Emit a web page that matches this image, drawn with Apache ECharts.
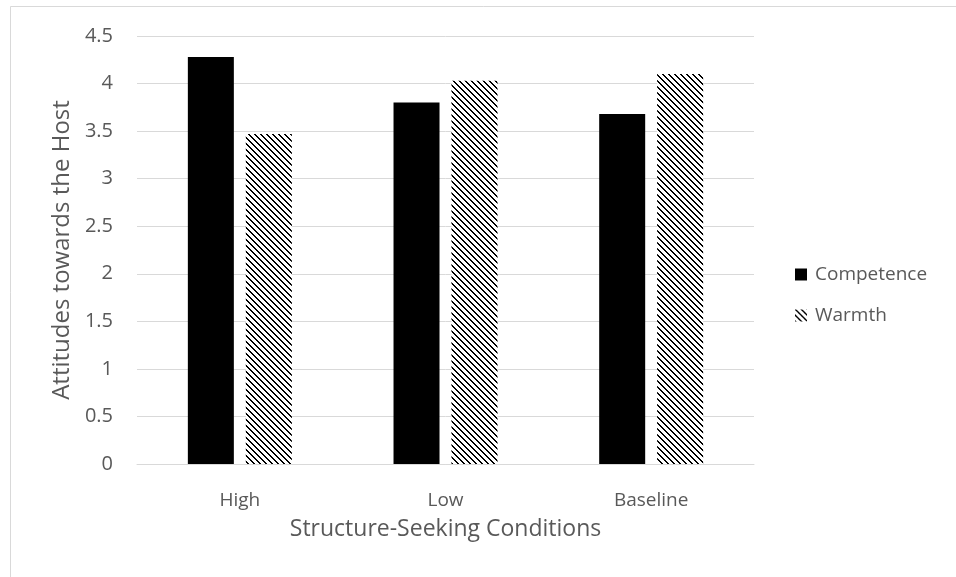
<!DOCTYPE html>
<html>
<head>
<meta charset="utf-8">
<script src="https://cdn.jsdelivr.net/npm/echarts@6/dist/echarts.min.js"></script>
<style>
  html, body { margin: 0; padding: 0; background: #fff; }
  #chart { width: 956px; height: 577px; }
</style>
</head>
<body>
<div id="chart"></div>
<script>
// Mean attitudes towards the host by structure-seeking condition
const categories = ['High', 'Low', 'Baseline'];
const competence = [4.28, 3.80, 3.68];
const warmth = [3.47, 4.03, 4.10];
const yTicks = { min: 0, max: 4.5, interval: 0.5 };

// Downward-diagonal hatch tile for the Warmth bars
function hatchTile() {
  const n = 6;
  const c = document.createElement('canvas');
  c.width = n; c.height = n;
  const ctx = c.getContext('2d');
  ctx.fillStyle = '#fff';
  ctx.fillRect(0, 0, n, n);
  ctx.fillStyle = '#000';
  for (let y = 0; y < n; y++) {
    for (let x = 0; x < n; x++) {
      const d = ((x - y) % n + n) % n;
      if (d === 0 || (d === 1 && (x + y) % 2 === 1)) ctx.fillRect(x, y, 1, 1);
    }
  }
  return c;
}

const textColor = '#595959';
const fontFamily = '"Open Sans", "Liberation Sans", sans-serif';
const hatch = { image: hatchTile(), repeat: 'repeat' };

const chart = echarts.init(document.getElementById('chart'), null, { renderer: 'canvas' });
chart.setOption({
  animation: false,
  backgroundColor: '#fff',
  textStyle: { fontFamily: fontFamily, color: textColor },
  graphic: [{
    type: 'rect',
    shape: { x: 10.5, y: 6.5, width: 1200, height: 1200 },
    style: { fill: null, stroke: '#d9d9d9', lineWidth: 1 },
    silent: true
  }],
  grid: { left: 137, right: 202, top: 36, bottom: 113 },
  legend: {
    orient: 'vertical',
    left: 790,
    top: 260,
    itemWidth: 12,
    itemHeight: 12,
    itemGap: 22,
    icon: 'rect',
    textStyle: { fontFamily: fontFamily, color: textColor, fontSize: 19, padding: [0, 0, 0, 3] },
    data: ['Competence', 'Warmth']
  },
  xAxis: {
    type: 'category',
    data: categories,
    name: 'Structure-Seeking Conditions',
    nameLocation: 'middle',
    nameGap: 54,
    nameTextStyle: { fontFamily: fontFamily, color: textColor, fontSize: 23 },
    axisLine: { lineStyle: { color: '#d9d9d9', width: 1 } },
    axisTick: { show: false },
    axisLabel: { color: textColor, fontSize: 19, margin: 27, fontFamily: fontFamily }
  },
  yAxis: {
    type: 'value',
    min: yTicks.min,
    max: yTicks.max,
    interval: yTicks.interval,
    name: 'Attitudes towards the Host',
    nameLocation: 'middle',
    nameGap: 56,
    nameTextStyle: { fontFamily: fontFamily, color: textColor, fontSize: 24 },
    axisLine: { show: false },
    axisTick: { show: false },
    splitLine: { lineStyle: { color: '#d9d9d9', width: 1 } },
    axisLabel: { color: textColor, fontSize: 20, margin: 24, fontFamily: fontFamily }
  },
  series: [
    {
      name: 'Competence',
      type: 'bar',
      data: competence,
      barWidth: 46,
      barGap: '26%',
      itemStyle: { color: '#000' }
    },
    {
      name: 'Warmth',
      type: 'bar',
      data: warmth,
      barWidth: 46,
      barGap: '26%',
      itemStyle: { color: hatch }
    }
  ]
});
</script>
</body>
</html>
